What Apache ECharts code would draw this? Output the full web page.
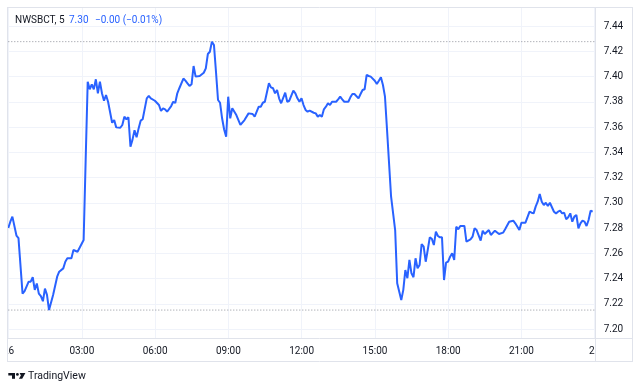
<!DOCTYPE html>
<html><head><meta charset="utf-8">
<script src="https://cdn.jsdelivr.net/npm/echarts@6/dist/echarts.min.js"></script>
<style>html,body{margin:0;padding:0;background:#fff}#c{width:640px;height:391px}</style>
</head><body><div id="c"></div>
<script>
const times = ["00:00","00:05","00:10","00:20","00:25","00:35","00:40","00:50","00:55","01:00","01:05","01:10","01:15","01:20","01:25","01:30","01:35","01:40","01:50","02:00","02:05","02:15","02:20","02:25","02:35","02:40","02:50","03:05","03:10",
"03:15","03:20","03:25","03:30","03:35","03:40","03:45","03:50","03:55","04:00","04:05","04:15","04:20","04:25","04:35","04:40","04:45","04:50","04:55","05:00","05:05","05:10","05:15","05:20","05:25","05:30","05:40","05:45","05:50","06:00","06:10","06:15","06:20","06:25","06:30","06:40","06:45","06:50","06:55","07:00","07:10","07:15","07:20","07:25","07:30","07:35","07:40","07:50","08:00","08:05","08:10","08:15","08:20","08:25","08:30","08:35","08:40","08:45","08:50","08:55",
"09:00","09:05","09:10","09:20","09:30","09:40","09:50","10:00","10:05","10:15","10:20","10:25","10:30","10:40","10:45","10:50","10:55","11:00","11:05","11:10","11:20","11:25","11:30","11:40","11:45","11:50","11:55","12:00","12:05","12:10","12:15","12:20","12:30","12:35","12:40","12:45","12:50","12:55","13:00","13:05","13:10","13:15","13:25","13:30","13:35","13:40","13:45","13:55","14:00","14:05","14:10","14:20","14:25","14:30","14:35","14:40","14:45","14:50","15:00","15:05","15:10","15:15","15:20","15:25","15:30",
"15:40","15:50","15:55","16:05","16:10","16:15","16:20","16:25","16:30","16:35","16:40","16:45","16:50","16:55","17:00","17:05","17:10","17:15","17:20","17:25","17:30","17:35","17:40","17:45","17:50","17:55","18:00","18:05","18:10","18:15","18:20","18:25","18:30","18:40","18:45","18:55","19:00","19:05","19:10","19:20","19:25","19:30","19:40","19:45","19:55","20:05","20:15","20:20","20:30","20:40","20:45","20:55","21:00","21:10","21:20","21:25","21:30","21:35","21:40","21:45","21:50","21:55","22:00","22:05","22:10","22:20","22:25","22:30","22:35","22:40","22:45","22:50","22:55","23:00","23:05","23:10","23:15","23:20","23:25","23:30","23:35","23:40","23:45","23:50","23:55"];
const prices = [7.280,7.285,7.289,7.274,7.272,7.228,7.230,7.2375,7.2375,7.241,7.231,7.236,7.228,7.226,7.222,7.232,7.227,7.215,7.227,7.2414,7.2454,7.248,7.2533,7.256,7.256,7.2626,7.2612,7.2705,7.334,
7.3959,7.3899,7.3938,7.3899,7.3978,7.3867,7.3959,7.3867,7.3808,7.3853,7.380,7.3634,7.3655,7.3597,7.3594,7.3616,7.3682,7.3661,7.3677,7.3444,7.350,7.3575,7.3518,7.3589,7.365,7.3661,7.3827,7.3846,7.3827,7.3808,7.3774,7.3727,7.3748,7.374,7.3721,7.3766,7.380,7.379,7.3867,7.3907,7.3984,7.3967,7.3946,7.3925,7.3938,7.4083,7.3999,7.4004,7.403,7.4065,7.4178,7.4196,7.4276,7.425,7.4038,7.3814,7.3792,7.3669,7.358,7.3523,
7.384,7.3669,7.3748,7.3695,7.3616,7.3655,7.3708,7.3703,7.3682,7.3761,7.3761,7.3792,7.380,7.3946,7.3914,7.3907,7.3867,7.3893,7.3827,7.3788,7.3872,7.380,7.3808,7.3888,7.3867,7.3827,7.380,7.3827,7.3774,7.3735,7.3721,7.3729,7.3713,7.3708,7.3682,7.3695,7.3682,7.374,7.3761,7.3788,7.3774,7.380,7.380,7.3819,7.384,7.3819,7.380,7.380,7.3835,7.3861,7.3861,7.3827,7.3861,7.3893,7.3899,7.4012,7.4004,7.3999,7.3967,7.3941,7.3967,7.3994,7.3933,7.384,7.358,
7.3048,7.2784,7.2362,7.223,7.231,7.2467,7.2402,7.2547,7.2441,7.241,7.256,7.2481,7.2507,7.2673,7.2652,7.2533,7.2626,7.2726,7.2715,7.2665,7.2771,7.2737,7.2726,7.2726,7.2388,7.2525,7.2533,7.2573,7.260,7.2547,7.281,7.279,7.2816,7.2816,7.2692,7.271,7.2731,7.2798,7.2784,7.270,7.2779,7.2752,7.2784,7.2745,7.2779,7.2752,7.2763,7.279,7.285,7.2858,7.2837,7.2784,7.2842,7.2842,7.2929,7.2921,7.2916,7.2969,7.3008,7.3069,7.3008,7.2982,7.300,7.2974,7.300,7.2929,7.2916,7.2929,7.2937,7.2916,7.2921,7.2869,7.2885,7.2916,7.285,7.289,7.2903,7.2798,7.2837,7.2858,7.285,7.2816,7.2863,7.2937,7.2929];
const xTicks = ["26","03:00","06:00","09:00","12:00","15:00","18:00","21:00","27"];
const yTicks = [7.20,7.22,7.24,7.26,7.28,7.30,7.32,7.34,7.36,7.38,7.40,7.42,7.44];
const highValue = 7.4276, lowValue = 7.215;
const headerSymbol = "NWSBCT, 5", headerLast = "7.30", headerChange = "\u22120.00 (\u22120.01%)";

function toMin(t){const p=t.split(':');return (+p[0])*60+(+p[1]);}
const data = times.map((t,i)=>[toMin(t), prices[i]]);
const dayStart = 0, dayEnd = 1440;

const FONT = 'Roboto';
const gridC = '#f0f3fa', frameC = '#e0e3eb', textC = '#131722', blue = '#2962ff';
const chart = echarts.init(document.getElementById('c'), null, {renderer:'canvas'});
function hline(x1,x2,y){return {type:'line',silent:true,z:50,shape:{x1:x1,y1:y,x2:x2,y2:y},style:{stroke:frameC,lineWidth:1}};}
function vline(x,y1,y2){return {type:'line',silent:true,z:50,shape:{x1:x,y1:y1,x2:x,y2:y2},style:{stroke:frameC,lineWidth:1}};}
function levelSeries(v){
  return {type:'line',xAxisIndex:1,yAxisIndex:1,data:[[dayStart,v],[dayEnd,v]],showSymbol:false,symbol:'none',silent:true,
    clip:false,lineStyle:{color:'#8f929b',type:[1,2],width:1},z:5};
}
chart.setOption({
  animation:false,
  backgroundColor:'#ffffff',
  grid:[
    {left:8.3, right:45.3, top:7, bottom:53},
    {left:8.3, right:45.3, top:26, bottom:62}
  ],
  xAxis:[
    {gridIndex:0,type:'value',min:dayStart,max:dayEnd,interval:180,
     axisLine:{show:false},axisTick:{show:false},
     splitLine:{show:true,lineStyle:{color:gridC,width:1}},
     axisLabel:{color:textC,fontFamily:FONT,fontSize:10,margin:8,showMinLabel:true,showMaxLabel:true,
       formatter:v=>xTicks[Math.round(v/180)]}},
    {gridIndex:1,type:'value',min:dayStart,max:dayEnd,show:false}
  ],
  yAxis:[
    {gridIndex:0,type:'value',show:false,min:0,max:1},
    {gridIndex:1,type:'value',position:'right',min:yTicks[0],max:yTicks[yTicks.length-1],interval:0.02,
     axisLine:{show:false},axisTick:{show:false},
     splitLine:{show:true,lineStyle:{color:gridC,width:1}},
     axisLabel:{color:textC,fontFamily:FONT,fontSize:10,margin:9,align:'left',formatter:v=>v.toFixed(2)}}
  ],
  series:[
    levelSeries(highValue),
    levelSeries(lowValue),
    {type:'line',xAxisIndex:1,yAxisIndex:1,data:data,showSymbol:false,symbol:'none',clip:false,
     lineStyle:{color:blue,width:2},z:10}
  ],
  graphic:[
    {type:'rect',silent:true,z:40,shape:{x:0,y:339,width:7,height:22},style:{fill:'#fff'}},
    {type:'rect',silent:true,z:40,shape:{x:595.5,y:339,width:36,height:22},style:{fill:'#fff'}},
    hline(7,632,7.5), hline(7,632,338.5), hline(7,632,361.5),
    vline(7.5,7,362), vline(595.5,7,362), vline(632.5,7,362),
    {type:'text',z:60,x:15,y:20,style:{text:headerSymbol,fill:textC,font:'10px '+FONT,textVerticalAlign:'middle'}},
    {type:'text',z:60,x:69,y:20,style:{text:headerLast,fill:blue,font:'10px '+FONT,textVerticalAlign:'middle'}},
    {type:'text',z:60,x:95,y:20,style:{text:headerChange,fill:blue,font:'10px '+FONT,textVerticalAlign:'middle'}},
    {type:'rect',z:60,shape:{x:8.3,y:373,width:6.7,height:2.5},style:{fill:textC}},
    {type:'rect',z:60,shape:{x:12,y:373,width:3,height:5.8},style:{fill:textC}},
    {type:'circle',z:60,shape:{cx:17.4,cy:374.4,r:1.4},style:{fill:textC}},
    {type:'polygon',z:60,shape:{points:[[19.6,373],[25.4,373],[22.2,378.8],[18.9,378.8],[20.9,375.4]]},style:{fill:textC}},
    {type:'text',z:60,x:28,y:376,style:{text:'TradingView',fill:textC,font:'10.5px '+FONT,textVerticalAlign:'middle'}}
  ]
});
</script></body></html>
